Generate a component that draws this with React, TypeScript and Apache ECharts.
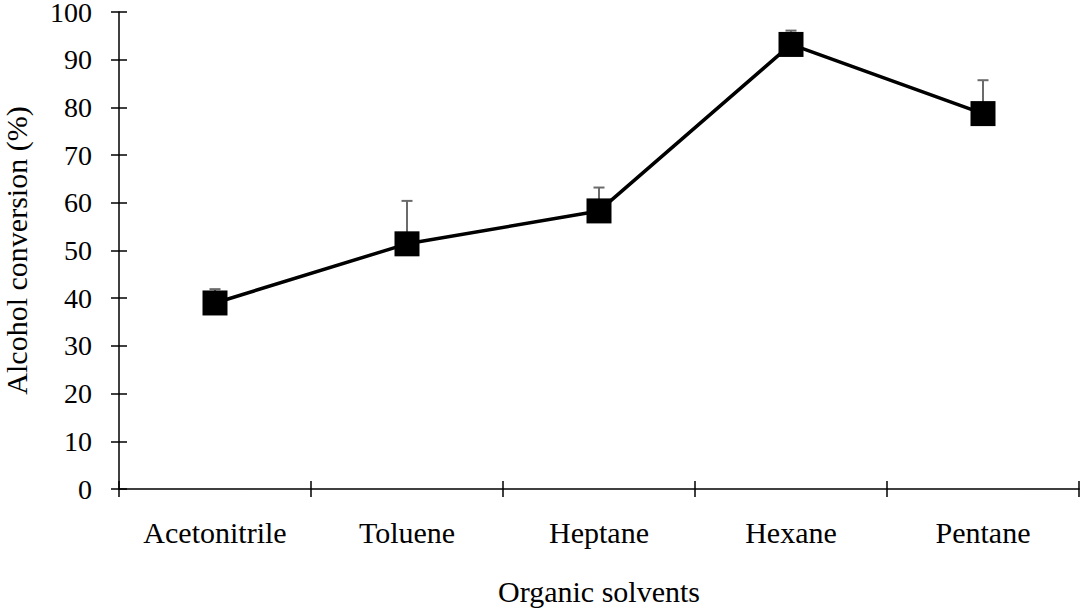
import React, { useEffect, useRef } from "react";
import * as echarts from "echarts";

const categories = ["Acetonitrile", "Toluene", "Heptane", "Hexane", "Pentane"];
const conversion = [39.0, 51.4, 58.3, 93.2, 78.7];
const errorPlus = [2.9, 9.0, 4.9, 2.9, 7.0];
const yTicks = { min: 0, max: 100, interval: 10 };

const FONT = "'Liberation Serif', 'Times New Roman', serif";

export default function App() {
  const ref = useRef<HTMLDivElement>(null);

  useEffect(() => {
    if (!ref.current) return;
    const chart = echarts.init(ref.current, null, { renderer: "svg" });

    const errData = conversion.map((v, i) => [i, v, v + errorPlus[i]]);

    const axisLine = { show: true, lineStyle: { color: "#000", width: 1.5 } };
    const tickStyle = { color: "#000", width: 1.5 };

    chart.setOption({
      animation: false,
      backgroundColor: "#fff",
      grid: {
        left: 119,
        right: 5,
        top: 12,
        bottom: 121,
        containLabel: false,
        outerBoundsMode: "none",
      },
      xAxis: [
        {
          type: "category",
          data: categories,
          position: "bottom",
          boundaryGap: true,
          axisLine,
          axisTick: { show: true, inside: false, length: 8, lineStyle: tickStyle },
          axisLabel: { color: "#000", fontFamily: FONT, fontSize: 30, margin: 28 },
          name: "Organic solvents",
          nameLocation: "middle",
          nameGap: 87,
          nameTextStyle: { color: "#000", fontFamily: FONT, fontSize: 30 },
          splitLine: { show: false },
        },
        {
          type: "category",
          data: categories,
          position: "bottom",
          offset: 0,
          boundaryGap: true,
          axisLine: { show: false },
          axisTick: { show: true, inside: true, length: 8, lineStyle: tickStyle },
          axisLabel: { show: false },
          splitLine: { show: false },
        },
      ],
      yAxis: [
        {
          type: "value",
          min: yTicks.min,
          max: yTicks.max,
          interval: yTicks.interval,
          position: "left",
          axisLine,
          axisTick: { show: true, inside: false, length: 8, lineStyle: tickStyle },
          axisLabel: {
            color: "#000",
            fontFamily: FONT,
            fontSize: 28,
            lineHeight: 22,
            margin: 27,
          },
          splitLine: { show: false },
          name: "Alcohol conversion (%)",
          nameLocation: "middle",
          nameGap: 88,
          nameTextStyle: { color: "#000", fontFamily: FONT, fontSize: 30 },
        },
        {
          type: "value",
          min: yTicks.min,
          max: yTicks.max,
          interval: yTicks.interval,
          position: "left",
          offset: 0,
          axisLine: { show: false },
          axisTick: { show: true, inside: true, length: 8, lineStyle: tickStyle },
          axisLabel: { show: false },
          splitLine: { show: false },
        },
      ],
      series: [
        {
          type: "custom",
          z: 1,
          xAxisIndex: 0,
          yAxisIndex: 0,
          data: errData,
          encode: { x: 0, y: [1, 2] },
          renderItem: (params: any, api: any) => {
            const x = api.value(0);
            const p0 = api.coord([x, api.value(1)]);
            const p1 = api.coord([x, api.value(2)]);
            const style = { stroke: "#6b6b6b", lineWidth: 2 };
            return {
              type: "group",
              children: [
                { type: "line", shape: { x1: p0[0], y1: p0[1], x2: p1[0], y2: p1[1] }, style },
                { type: "line", shape: { x1: p1[0] - 5.5, y1: p1[1], x2: p1[0] + 5.5, y2: p1[1] }, style },
              ],
            };
          },
        },
        {
          type: "line",
          z: 3,
          xAxisIndex: 0,
          yAxisIndex: 0,
          data: conversion,
          symbol: "rect",
          symbolSize: 25,
          lineStyle: { color: "#000", width: 3.5 },
          itemStyle: { color: "#000" },
        },
      ],
    });

    return () => chart.dispose();
  }, []);

  return (
    <div
      ref={ref}
      style={{ position: "fixed", left: 0, top: 0, width: 1084, height: 610, background: "#fff" }}
    />
  );
}
